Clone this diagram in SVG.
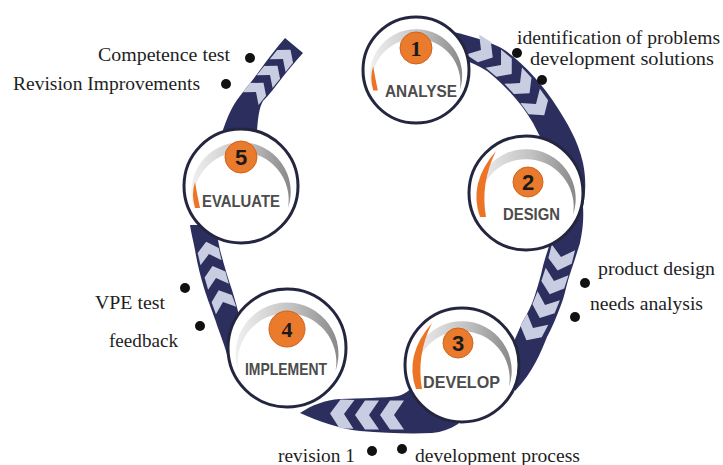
<svg xmlns="http://www.w3.org/2000/svg" width="723" height="465" viewBox="0 0 723 465">
  <defs>
    <style>
      .band { fill: #2c2f5e; }
      .chev { fill: #c9cde2; }
      .ring { fill: #ffffff; stroke: #24263f; stroke-width: 3; }
      .arc { fill: url(#arcGrad); }
      .accent { fill: #ec7424; }
      .disk { fill: #ea7a2c; stroke: #d2611c; stroke-width: 1; }
      .num { font-family: "Liberation Sans", Arial, sans-serif; font-weight: bold; font-size: 22px; fill: #1a1a1a; text-anchor: middle; }
      .num.serif { font-family: "Liberation Serif", "Times New Roman", serif; }
      .label { font-family: "Liberation Sans", Arial, sans-serif; font-weight: bold; font-size: 17px; fill: #4c4c4c; }
      .note { font-family: "Liberation Serif", "Times New Roman", serif; font-size: 18.5px; fill: #1e1e1e; }
      .dot { fill: #111111; }
    </style>
    <linearGradient id="arcGrad" x1="0" y1="0" x2="1" y2="0">
      <stop offset="0" stop-color="#f0f0f0"/>
      <stop offset="0.55" stop-color="#c2c2c2"/>
      <stop offset="1" stop-color="#888888"/>
    </linearGradient>
    <!-- one light chevron stripe, pointing along +x -->
    <path id="chev" d="M -10 -12 L 4 -12 L 14 0 L 4 12 L -10 12 L 0 0 Z"/>
    <!-- grey swoosh inside each step circle (radius 57 units) -->
    <path id="crescent" d="M -47 22 A 49.7 49.7 0 1 1 47 22 A 47.7 47.7 0 1 0 -47 22 Z"/>
    <path id="orangeArc" d="M -46 24 Q -58 -10 -30 -42 Q -46 -10 -40 24 Z"/>
    <path id="orangeTip" d="M -46 22 Q -50 8 -46 -4 Q -44 8 -41 22 Z"/>
  </defs>

  <rect width="723" height="465" fill="#ffffff"/>

  <!-- chevron track linking the five steps -->
  <g id="connectors">
    <path class="band" d="M 439 29 C 460 33 488 40 503 49 C 520 60 543 84 557 107 C 566 121 578 140 583 163 C 586 178 586 192 583 206 L 556 168 L 533 123 C 522 104 506 86 487 71 C 470 60 452 56 435 55 Z"/>
    <path class="band" d="M 583 206 C 584 222 582 233 580 243 C 576 256 573 265 570 274 C 566 286 565 295 561 305 C 556 318 552 328 547 337 C 541 352 533 372 515 391 L 505 362 L 522 323 C 528 312 532 305 535 295 C 538 285 541 276 543 266 C 546 255 549 246 552 238 L 560 215 Z"/>
    <path class="band" d="M 458 424 C 450 429 442 432 432 433 C 410 434 385 433 360 431 C 340 429 318 421 300 413 C 312 405 325 400 340 399 C 360 398 385 398 398 396 C 405 394 410 390 414 385 L 470 405 Z"/>
    <path class="band" d="M 229 362 C 225 345 219 332 216 322 C 211 308 207 298 204 288 C 200 275 197 262 195 250 C 193 240 191 232 190 225 L 215 225 L 220 250 C 224 265 228 278 232 290 C 235 300 238 310 240 320 L 255 335 Z"/>
    <path class="band" d="M 222 133 C 226 121 230 110 237 100 C 245 89 253 80 260 70 C 268 59 276 48 285 38 L 303 53 C 295 62 288 70 282 78 C 275 87 269 95 263 101 C 259 108 258 118 257 131 L 241 150 Z"/>

    <g class="chev">
      <use href="#chev" transform="translate(481 50) rotate(33)"/>
      <use href="#chev" transform="translate(501 65) rotate(40)"/>
      <use href="#chev" transform="translate(520 83) rotate(47)"/>
      <use href="#chev" transform="translate(536 104) rotate(54)"/>

      <use href="#chev" transform="translate(561 257) rotate(104)"/>
      <use href="#chev" transform="translate(554 281) rotate(108)"/>
      <use href="#chev" transform="translate(545 305) rotate(112)"/>
      <use href="#chev" transform="translate(533 328) rotate(118)"/>

      <use href="#chev" transform="translate(394 415) rotate(180) scale(1 1.2)"/>
      <use href="#chev" transform="translate(369 415) rotate(180) scale(1 1.2)"/>
      <use href="#chev" transform="translate(344 414) rotate(182) scale(1 1.2)"/>

      <use href="#chev" transform="translate(223 302) rotate(-110) scale(0.9)"/>
      <use href="#chev" transform="translate(216 278) rotate(-106) scale(0.9)"/>
      <use href="#chev" transform="translate(209 254) rotate(-103) scale(0.9)"/>

      <use href="#chev" transform="translate(256 92) rotate(-51) scale(0.85)"/>
      <use href="#chev" transform="translate(270 75) rotate(-51) scale(0.85)"/>
      <use href="#chev" transform="translate(283 59) rotate(-51) scale(0.85)"/>
    </g>
  </g>

  <!-- step 1 -->
  <g id="step-analyse">
    <circle class="ring" cx="416" cy="70" r="53"/>
    <use class="arc" href="#crescent" transform="translate(416 70) scale(0.93)"/>
    <use class="accent" href="#orangeTip" transform="translate(416 70) scale(0.93)"/>
    <circle class="disk" cx="416" cy="48" r="16"/>
    <text class="num serif" x="416" y="56">1</text>
    <text class="label" x="385" y="97" textLength="72" lengthAdjust="spacingAndGlyphs">ANALYSE</text>
  </g>

  <!-- step 2 -->
  <g id="step-design">
    <circle class="ring" cx="526" cy="193" r="57"/>
    <use class="arc" href="#crescent" transform="translate(526 193)"/>
    <use class="accent" href="#orangeArc" transform="translate(526 193)"/>
    <circle class="disk" cx="528" cy="182" r="15"/>
    <text class="num" x="528" y="190">2</text>
    <text class="label" x="503" y="220" textLength="57" lengthAdjust="spacingAndGlyphs">DESIGN</text>
  </g>

  <!-- step 3 -->
  <g id="step-develop">
    <circle class="ring" cx="462" cy="365" r="57"/>
    <use class="arc" href="#crescent" transform="translate(462 365)"/>
    <use class="accent" href="#orangeArc" transform="translate(462 365)"/>
    <circle class="disk" cx="458" cy="343" r="15"/>
    <text class="num" x="458" y="351">3</text>
    <text class="label" x="423" y="388" textLength="77" lengthAdjust="spacingAndGlyphs">DEVELOP</text>
  </g>

  <!-- step 4 -->
  <g id="step-implement">
    <circle class="ring" cx="287" cy="348" r="59"/>
    <use class="arc" href="#crescent" transform="translate(287 348) scale(1.035)"/>
    <circle class="disk" cx="287" cy="329" r="18"/>
    <text class="num serif" x="287" y="337">4</text>
    <text class="label" x="245" y="375" textLength="82" lengthAdjust="spacingAndGlyphs">IMPLEMENT</text>
  </g>

  <!-- step 5 -->
  <g id="step-evaluate">
    <circle class="ring" cx="241" cy="186" r="57"/>
    <use class="arc" href="#crescent" transform="translate(241 186)"/>
    <use class="accent" href="#orangeTip" transform="translate(241 186)"/>
    <circle class="disk" cx="241" cy="157" r="16"/>
    <text class="num" x="241" y="165">5</text>
    <text class="label" x="202" y="207" textLength="78" lengthAdjust="spacingAndGlyphs">EVALUATE</text>
  </g>

  <!-- bullet notes around the cycle -->
  <g id="note-competence">
    <circle class="dot" cx="250" cy="58" r="5"/>
    <text class="note" x="98" y="61" textLength="132" lengthAdjust="spacingAndGlyphs">Competence test</text>
  </g>
  <g id="note-revision-improvements">
    <circle class="dot" cx="226" cy="84" r="5"/>
    <text class="note" x="13" y="90" textLength="187" lengthAdjust="spacingAndGlyphs">Revision Improvements</text>
  </g>
  <g id="note-identification">
    <circle class="dot" cx="517" cy="53" r="5"/>
    <text class="note" x="517" y="44" textLength="203" lengthAdjust="spacingAndGlyphs">identification of problems</text>
  </g>
  <g id="note-solutions">
    <circle class="dot" cx="542" cy="80" r="5"/>
    <text class="note" x="530" y="65" textLength="184" lengthAdjust="spacingAndGlyphs">development solutions</text>
  </g>
  <g id="note-product-design">
    <circle class="dot" cx="585" cy="283" r="5"/>
    <text class="note" x="598" y="275" textLength="117" lengthAdjust="spacingAndGlyphs">product design</text>
  </g>
  <g id="note-needs-analysis">
    <circle class="dot" cx="575" cy="317" r="5"/>
    <text class="note" x="590" y="310" textLength="113" lengthAdjust="spacingAndGlyphs">needs analysis</text>
  </g>
  <g id="note-vpe">
    <circle class="dot" cx="185" cy="288" r="5"/>
    <text class="note" x="95" y="309" textLength="70" lengthAdjust="spacingAndGlyphs">VPE test</text>
  </g>
  <g id="note-feedback">
    <circle class="dot" cx="200" cy="326" r="5"/>
    <text class="note" x="109" y="347" textLength="69" lengthAdjust="spacingAndGlyphs">feedback</text>
  </g>
  <g id="note-revision-1">
    <circle class="dot" cx="372" cy="451" r="5"/>
    <text class="note" x="278" y="462" textLength="77" lengthAdjust="spacingAndGlyphs">revision 1</text>
  </g>
  <g id="note-process">
    <circle class="dot" cx="402" cy="449" r="5"/>
    <text class="note" x="415" y="462" textLength="165" lengthAdjust="spacingAndGlyphs">development process</text>
  </g>
</svg>
